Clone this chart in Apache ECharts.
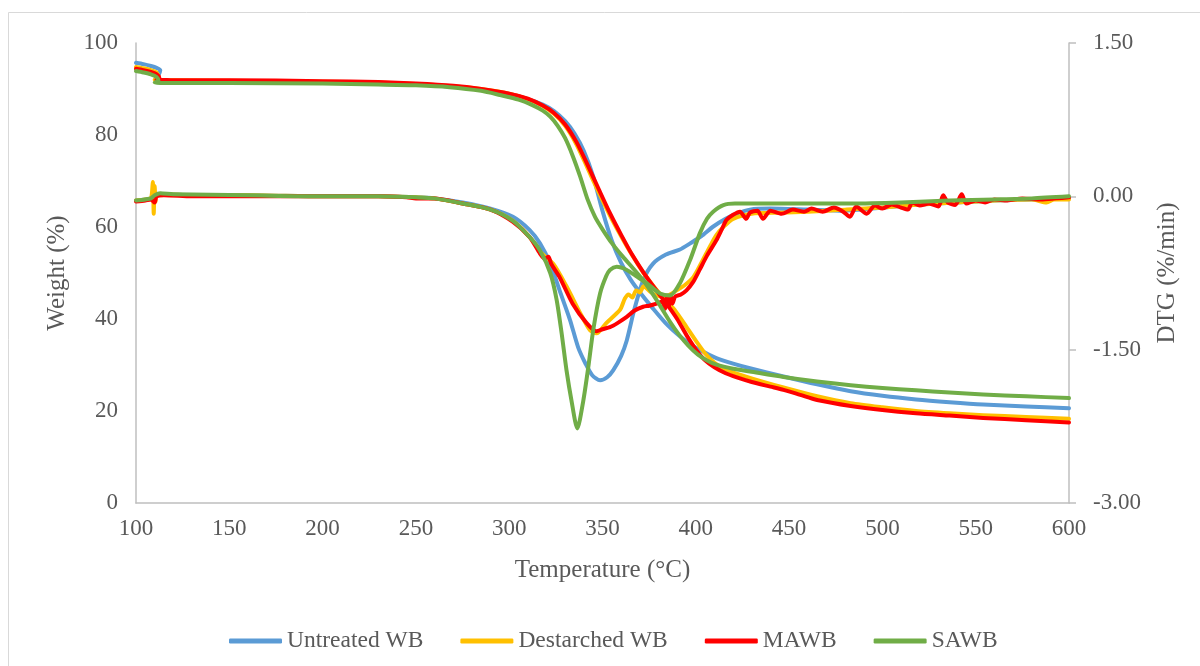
<!DOCTYPE html>
<html>
<head>
<meta charset="utf-8">
<script src="https://cdn.jsdelivr.net/npm/echarts@6/dist/echarts.min.js"></script>
<style>
  html, body { margin: 0; padding: 0; background: #ffffff; }
  #chart { width: 1200px; height: 666px; }
</style>
</head>
<body>
<div id="chart"></div>
<script>
// Sample names (legend order)
const sampleNames = ['Untreated WB', 'Destarched WB', 'MAWB', 'SAWB'];
const sampleColors = ['#5B9BD5', '#FFC000', '#FF0000', '#70AD47'];

// Axis ticks
const tempTicks = { min: 100, max: 600, step: 50 };
const weightTicks = { min: 0, max: 100, step: 20 };
const dtgTicks = { min: -3, max: 1.5, step: 1.5 };

// TG curves: [temperature °C, weight %]
const untreatedTG = [[100,95.7],[104,95.4],[108,95.0],[111,94.6],[113,94.1],[112,93.0],[110.5,92.1],[112,91.9],[120,91.8],[150,91.7],[200,91.5],[230,91.3],[250,91.0],[270,90.5],[285,89.9],[300,88.9],[310,87.8],[318,86.6],[324,85.2],[330,83.0],[335,80.3],[340,76.5],[345,71.0],[350,63.5],[355,57.0],[360,52.2],[365,48.6],[370,45.8],[376,42.8],[385,38.6],[395,35.1],[402,33.3],[411,31.5],[420,30.3],[429,29.3],[447,27.5],[465,25.8],[483,24.3],[500,23.3],[518,22.5],[536,21.9],[554,21.4],[577,21.0],[600,20.6]];
const destarchedTG = [[100,94.8],[104,94.5],[108,94.1],[111,93.6],[112,92.6],[110,92.0],[112,91.9],[120,91.9],[150,91.8],[200,91.6],[230,91.4],[250,91.1],[270,90.6],[285,90.0],[300,89.0],[310,87.8],[318,86.3],[324,84.6],[330,82.0],[336,78.0],[342,72.8],[348,67.5],[354,62.5],[360,58.0],[366,53.8],[372,50.0],[378,46.8],[384,44.0],[389,41.8],[395,38.3],[400,35.3],[405,32.5],[410,30.5],[416,29.0],[429,27.2],[447,25.1],[465,23.2],[483,21.7],[500,20.8],[518,20.0],[536,19.5],[554,19.1],[577,18.7],[600,18.3]];
const mawbTG = [[100,94.4],[104,94.1],[108,93.7],[111,93.2],[112.5,92.5],[111,92.0],[113,92.0],[120,91.9],[150,91.9],[200,91.7],[230,91.5],[250,91.2],[270,90.7],[285,90.0],[300,89.0],[310,87.9],[318,86.4],[324,84.8],[330,82.3],[336,78.5],[342,73.5],[348,68.2],[354,63.0],[360,58.3],[366,53.9],[372,50.1],[378,46.7],[384,43.5],[390,40.0],[395,36.5],[400,33.4],[405,31.0],[410,29.5],[416,28.2],[422,27.3],[430,26.3],[440,25.3],[447,24.6],[456,23.5],[465,22.4],[483,21.1],[500,20.2],[518,19.5],[536,19.0],[554,18.5],[577,18.0],[600,17.5]];
const sawbTG = [[100,93.9],[104,93.6],[108,93.2],[111,92.6],[112,91.8],[110,91.4],[113,91.3],[120,91.3],[150,91.3],[200,91.2],[230,91.0],[250,90.8],[268,90.4],[285,89.6],[295,88.7],[305,87.7],[313,86.4],[318,85.3],[322,84.0],[326,82.0],[330,79.3],[334,75.5],[338,71.0],[342,66.0],[346,62.2],[350,59.5],[355,56.5],[361,53.5],[366,51.2],[371,48.8],[376,46.0],[381,42.8],[386,39.5],[391,36.6],[396,34.2],[401,32.3],[406,31.0],[411,30.1],[420,29.2],[429,28.6],[447,27.4],[465,26.4],[483,25.6],[500,25.0],[518,24.5],[536,24.0],[554,23.6],[577,23.2],[600,22.8]];

// DTG curves: [temperature °C, DTG %/min]
const untreatedDTG = [[100,-0.04],[105,-0.03],[109,-0.02],[111,0.01],[115,0.02],[130,0.01],[160,0.01],[200,0.0],[230,0.0],[250,-0.01],[260,-0.02],[275,-0.06],[290,-0.12],[302,-0.2],[311,-0.33],[316.5,-0.46],[322,-0.66],[327,-0.92],[332.6,-1.21],[337,-1.48],[341,-1.64],[344.5,-1.75],[348.7,-1.8],[352.5,-1.77],[355.8,-1.7],[360,-1.56],[363,-1.41],[367,-1.11],[371.8,-0.82],[377,-0.66],[384,-0.57],[391.5,-0.52],[397,-0.46],[403,-0.39],[409,-0.3],[416,-0.22],[422,-0.17],[429,-0.13],[440,-0.12],[460,-0.13],[479,-0.14],[500,-0.11],[520,-0.08],[540,-0.06],[560,-0.04],[580,-0.03],[600,-0.02]];
const destarchedDTG = [[100,-0.04],[105,-0.03],[108,-0.02],[109,0.14],[109.5,-0.17],[110,0.1],[110.5,-0.05],[111,0.01],[115,0.02],[130,0.01],[160,0.01],[200,0.0],[230,0.0],[250,-0.01],[260,-0.02],[275,-0.07],[290,-0.13],[302,-0.24],[311,-0.4],[317,-0.55],[323.6,-0.66],[330.7,-0.88],[338,-1.14],[343.3,-1.31],[346.8,-1.34],[352,-1.24],[359.4,-1.11],[362,-1.0],[364,-0.96],[366,-0.99],[368,-0.92],[370,-0.94],[372,-0.88],[376,-0.94],[380.8,-0.98],[385,-0.97],[389.7,-0.92],[394,-0.87],[398.7,-0.79],[403,-0.65],[407.6,-0.49],[411,-0.38],[414.8,-0.3],[420,-0.22],[430,-0.17],[445,-0.16],[460,-0.15],[480,-0.13],[500,-0.11],[520,-0.08],[540,-0.06],[560,-0.04],[580,-0.03],[588,-0.06],[592,-0.03],[600,-0.03]];
const mawbDTG = [[100,-0.05],[105,-0.04],[108,-0.03],[110,-0.06],[111,0.0],[115,0.01],[130,0.0],[160,0.0],[200,0.0],[230,0.0],[245,-0.01],[250,-0.02],[260,-0.02],[275,-0.07],[290,-0.13],[302,-0.25],[311,-0.4],[316.5,-0.56],[319,-0.61],[321,-0.59],[322.5,-0.66],[327,-0.79],[334,-1.05],[341.5,-1.24],[346.8,-1.32],[350,-1.3],[354,-1.28],[358,-1.24],[363,-1.18],[367,-1.12],[371.8,-1.08],[375,-1.07],[379,-1.05],[382,-1.03],[383.5,-1.1],[384.5,-0.99],[385.5,-1.08],[386.5,-0.97],[387.5,-1.05],[389,-0.98],[392,-0.96],[395,-0.92],[398.5,-0.84],[402,-0.72],[406,-0.58],[411,-0.43],[414,-0.32],[416.5,-0.23],[420,-0.18],[423.7,-0.15],[427,-0.22],[429,-0.16],[433,-0.14],[436,-0.22],[440,-0.14],[446,-0.17],[452,-0.13],[458,-0.15],[462,-0.12],[468,-0.15],[474,-0.11],[479,-0.15],[482.6,-0.2],[486,-0.1],[491.6,-0.17],[496,-0.09],[500,-0.12],[505,-0.08],[510,-0.11],[513.7,-0.13],[516,-0.06],[520,-0.09],[525,-0.07],[530,-0.1],[532.6,0.01],[535,-0.06],[539,-0.085],[542.5,0.02],[545,-0.07],[550,-0.04],[555,-0.06],[560,-0.03],[567,-0.04],[575,-0.02],[585,-0.03],[593,-0.02],[600,-0.01]];
const sawbDTG = [[100,-0.04],[105,-0.03],[108,-0.02],[110,0.01],[113,0.03],[120,0.02],[160,0.01],[200,0.0],[230,0.0],[250,-0.01],[260,-0.02],[275,-0.07],[290,-0.13],[302,-0.24],[311,-0.4],[316.5,-0.53],[322,-0.75],[325.4,-1.01],[328.1,-1.34],[330.7,-1.7],[333.4,-2.0],[336.5,-2.27],[339.7,-2.0],[342.4,-1.67],[345.1,-1.3],[348.7,-0.95],[352,-0.78],[354,-0.72],[357.6,-0.69],[363,-0.72],[368,-0.78],[373.7,-0.85],[380.8,-0.95],[386.2,-0.97],[391.5,-0.85],[397,-0.62],[402.2,-0.36],[406,-0.22],[409.3,-0.15],[414.8,-0.085],[421,-0.07],[429,-0.07],[450,-0.07],[482.6,-0.07],[510,-0.06],[536,-0.04],[560,-0.03],[580,-0.02],[600,0.0]];

const tgCurves = [untreatedTG, destarchedTG, mawbTG, sawbTG];
const dtgCurves = [untreatedDTG, destarchedDTG, mawbDTG, sawbDTG];

const FONT = 'Liberation Serif';
const TEXT = '#595959';
const AXIS = '#BFBFBF';

function lineSeries(name, color, data, yAxisIndex) {
  return {
    type: 'line',
    name: name,
    data: data,
    xAxisIndex: 0,
    yAxisIndex: yAxisIndex,
    showSymbol: false,
    symbol: 'none',
    smooth: 0.25,
    animation: false,
    lineStyle: { color: color, width: 4, cap: 'round', join: 'round' },
    itemStyle: { color: color },
    emphasis: { disabled: true }
  };
}

const series = [];
for (let i = 0; i < sampleNames.length; i++) {
  series.push(lineSeries(sampleNames[i], sampleColors[i], tgCurves[i], 0));
  series.push(lineSeries(sampleNames[i], sampleColors[i], dtgCurves[i], 1));
}

const chart = echarts.init(document.getElementById('chart'), null, { renderer: 'canvas' });
chart.setOption({
  backgroundColor: '#ffffff',
  animation: false,
  textStyle: { fontFamily: FONT },
  graphic: [{
    type: 'rect',
    shape: { x: 8.5, y: 12.5, width: 1300, height: 800 },
    style: { fill: 'none', stroke: '#D9D9D9', lineWidth: 1 },
    silent: true
  }],
  grid: { left: 136, right: 131, top: 43, bottom: 163, containLabel: false },
  legend: {
    data: sampleNames,
    left: 224,
    top: 624,
    icon: 'roundRect',
    itemWidth: 53,
    itemHeight: 5,
    itemGap: 37,
    itemStyle: { borderWidth: 0 },
    textStyle: { fontFamily: FONT, fontSize: 23.5, color: TEXT },
    selectedMode: false
  },
  xAxis: {
    type: 'value',
    min: tempTicks.min,
    max: tempTicks.max,
    interval: tempTicks.step,
    name: 'Temperature (°C)',
    nameLocation: 'middle',
    nameGap: 55,
    nameTextStyle: { fontFamily: FONT, fontSize: 25, color: TEXT },
    axisLine: { show: true, lineStyle: { color: AXIS, width: 1.5 } },
    axisTick: { show: false },
    splitLine: { show: false },
    axisLabel: { fontFamily: FONT, fontSize: 23, color: TEXT, margin: 14 }
  },
  yAxis: [{
    type: 'value',
    position: 'left',
    min: weightTicks.min,
    max: weightTicks.max,
    interval: weightTicks.step,
    name: 'Weight (%)',
    nameLocation: 'middle',
    nameRotate: 90,
    nameGap: 66,
    nameTextStyle: { fontFamily: FONT, fontSize: 25, color: TEXT },
    axisLine: { show: true, lineStyle: { color: AXIS, width: 1.5 } },
    axisTick: { show: false },
    splitLine: { show: false },
    axisLabel: { fontFamily: FONT, fontSize: 23, color: TEXT, margin: 18 }
  }, {
    type: 'value',
    position: 'right',
    min: dtgTicks.min,
    max: dtgTicks.max,
    interval: dtgTicks.step,
    name: 'DTG (%/min)',
    nameLocation: 'middle',
    nameRotate: 90,
    nameGap: 86,
    nameTextStyle: { fontFamily: FONT, fontSize: 25, color: TEXT },
    axisLine: { show: true, lineStyle: { color: AXIS, width: 1.5 } },
    axisTick: { show: true, inside: false, length: 7, lineStyle: { color: AXIS, width: 1.5 } },
    splitLine: { show: false },
    axisLabel: {
      fontFamily: FONT, fontSize: 23, color: TEXT, margin: 24,
      formatter: function (v) { return v.toFixed(2); }
    }
  }],
  series: series
});
</script>
</body>
</html>
